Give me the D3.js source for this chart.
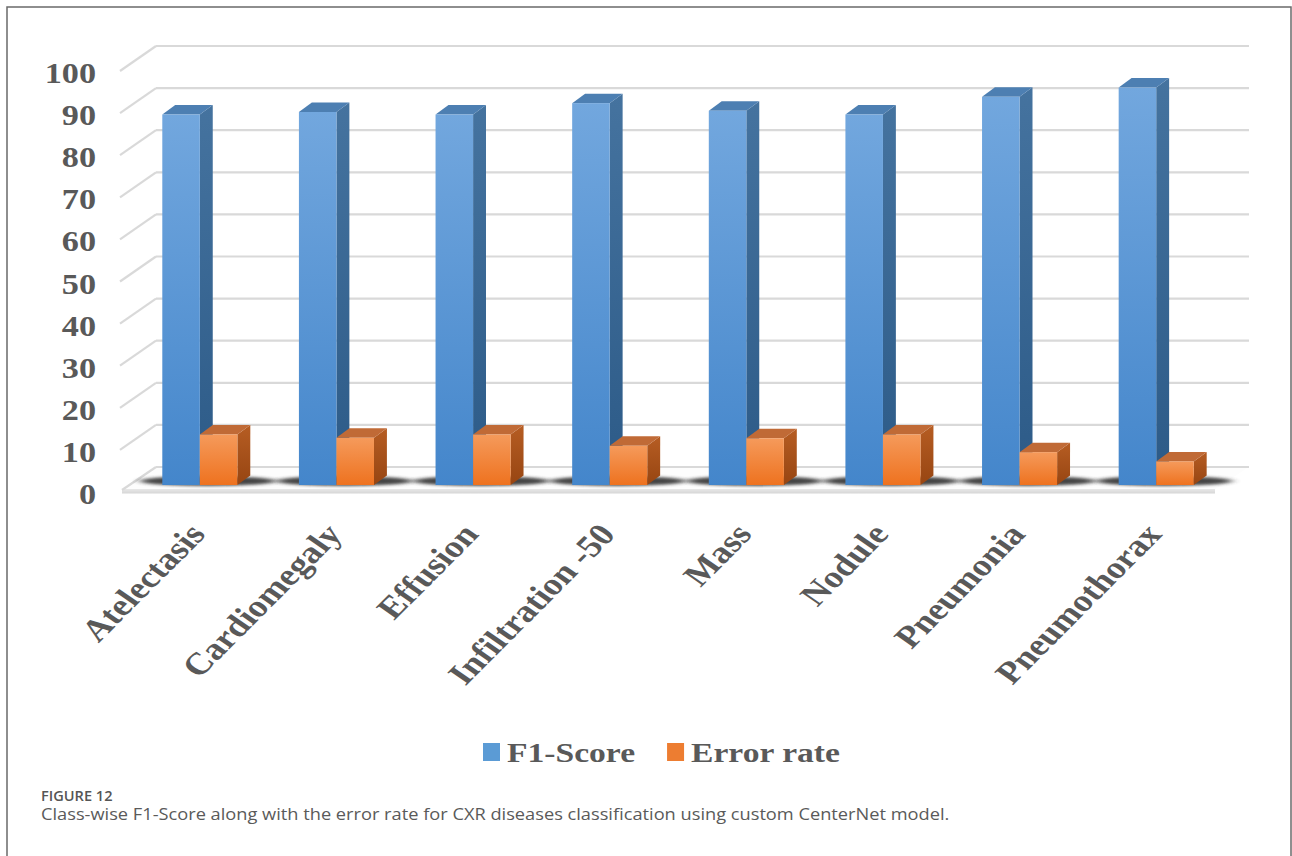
<!DOCTYPE html>
<html>
<head>
<meta charset="utf-8">
<script src="https://cdn.jsdelivr.net/npm/d3@7"></script>
<style>
  body { margin: 0; background: #fff; }
  svg { display: block; }
</style>
</head>
<body>
<div id="plot"></div>
<script>
// Data
const categories = ["Atelectasis", "Cardiomegaly", "Effusion", "Infiltration -50",
  "Mass", "Nodule", "Pneumonia", "Pneumothorax"];
const seriesNames = ["F1-Score", "Error rate"];
const f1Score = [88.0, 88.6, 88.0, 90.7, 88.9, 88.0, 92.2, 94.4];
const errorRate = [12.0, 11.2, 12.0, 9.3, 11.1, 12.0, 7.8, 5.6];
const yTicks = [0, 10, 20, 30, 40, 50, 60, 70, 80, 90, 100];

const width = 1292;
const height = 856;

// 3D box of the plot area (front plane + depth vector)
const floorLeft = 122, floorRight = 1215;
const DX = 34, DY = -25;          // full depth offset
const barT0 = 0.28, barT1 = 0.66; // bar front / back depth

const svg = d3.select("#plot")
  .append("svg")
  .attr("width", width)
  .attr("height", height);

// Frame round the figure
svg.append("rect")
  .attr("x", 7).attr("y", 7)
  .attr("width", 1284).attr("height", 900)
  .attr("fill", "none")
  .attr("stroke", "#6a6a6a")
  .attr("stroke-width", 1.5);

const y = d3.scaleLinear().domain([0, 100]).range([492, 71]);
const x = d3.scaleBand().domain(categories).range([floorLeft, floorRight]).padding(0);
const xSub = d3.scaleBand().domain(seriesNames).range([0, x.bandwidth()])
  .paddingInner(0).paddingOuter(0.82);

const defs = svg.append("defs");
function grad(id, c1, c2) {
  const g = defs.append("linearGradient").attr("id", id)
    .attr("x1", 0).attr("y1", 0).attr("x2", 0).attr("y2", 1);
  g.append("stop").attr("offset", "0%").attr("stop-color", c1);
  g.append("stop").attr("offset", "100%").attr("stop-color", c2);
}
grad("blueFront", "#72a7de", "#4486cb");
grad("blueSide", "#45739f", "#2c5a87");
grad("orangeFront", "#f59a5b", "#ee721f");
grad("orangeSide", "#b65d23", "#974512");
grad("floorBand", "#e8e8e8", "#d6d6d6");

const blur = defs.append("filter").attr("id", "shadowBlur")
  .attr("x", "-50%").attr("y", "-200%").attr("width", "200%").attr("height", "500%");
blur.append("feGaussianBlur").attr("stdDeviation", "5 1.8");

const colors = {
  "F1-Score": { front: "url(#blueFront)", side: "url(#blueSide)", top: "#4d7fb2", key: "#5b9bd5" },
  "Error rate": { front: "url(#orangeFront)", side: "url(#orangeSide)", top: "#c06a36", key: "#ed7d31" }
};

// Floor
const floor = svg.append("g");
floor.append("polygon")
  .attr("points", [[floorLeft, 489], [floorRight, 489], [floorRight + DX, 492 + DY], [floorLeft + DX, 492 + DY]].join(" "))
  .attr("fill", "#fdfdfd");
floor.append("rect")
  .attr("x", floorLeft).attr("y", 489)
  .attr("width", floorRight - floorLeft).attr("height", 4.5)
  .attr("fill", "url(#floorBand)");

// Gridlines: back wall and left wall
const grid = svg.append("g").attr("stroke", "#d9d9d9").attr("stroke-width", 2.2).attr("fill", "none");
grid.selectAll("line.back")
  .data(yTicks)
  .join("line")
  .attr("class", "back")
  .attr("x1", floorLeft + DX).attr("x2", floorRight + DX)
  .attr("y1", d => y(d) + DY).attr("y2", d => y(d) + DY);
grid.selectAll("line.side")
  .data(yTicks.filter(d => d > 0))
  .join("line")
  .attr("class", "side")
  .attr("x1", floorLeft - 2).attr("y1", d => y(d))
  .attr("x2", floorLeft + DX).attr("y2", d => y(d) + DY);
grid.append("line")
  .attr("x1", floorLeft).attr("y1", 490)
  .attr("x2", floorLeft + DX).attr("y2", 492 + DY);

// Y axis labels
svg.append("g")
  .selectAll("text")
  .data(yTicks)
  .join("text")
  .attr("transform", d => `translate(96,${y(d) + 12}) scale(1.18,1)`)
  .attr("text-anchor", "end")
  .style("font-family", "'Liberation Serif', 'Times New Roman', serif")
  .style("font-weight", "bold")
  .style("font-size", "29px")
  .attr("fill", "#595959")
  .text(d => d);

// Bars
const rows = categories.map((c, i) => ({ cat: c, values: [
  { key: "F1-Score", value: f1Score[i] },
  { key: "Error rate", value: errorRate[i] }
] }));

const sx = (barT1 - barT0) * DX, sy = (barT1 - barT0) * DY;
const ox = barT0 * DX, oy = barT0 * DY;

const groups = svg.append("g")
  .selectAll("g")
  .data(rows)
  .join("g")
  .attr("transform", d => `translate(${x(d.cat) + ox},${oy})`);

// soft floor shadow under each pair
groups.append("ellipse")
  .attr("cx", xSub.step() * 0.82 + xSub.step() + 8)
  .attr("cy", y(0) - 4)
  .attr("rx", xSub.step() + 30)
  .attr("ry", 5)
  .attr("fill", "#333")
  .attr("opacity", 0.9)
  .attr("filter", "url(#shadowBlur)");

groups.each(function(d) {
  const g = d3.select(this);
  d.values.forEach(v => {
    const x0 = xSub(v.key), w = xSub.bandwidth();
    const top = y(v.value), base = y(0);
    const c = colors[v.key];
    g.append("polygon")
      .attr("points", [[x0 + w, top], [x0 + w + sx, top + sy], [x0 + w + sx, base + sy], [x0 + w, base]].join(" "))
      .attr("fill", c.side);
    g.append("polygon")
      .attr("points", [[x0, top], [x0 + sx, top + sy], [x0 + w + sx, top + sy], [x0 + w, top]].join(" "))
      .attr("fill", c.top);
    g.append("rect")
      .attr("x", x0).attr("y", top)
      .attr("width", w).attr("height", base - top)
      .attr("fill", c.front);
  });
});

// X axis labels
svg.append("g")
  .selectAll("text")
  .data(categories)
  .join("text")
  .attr("transform", d => `translate(${x(d) + ox + x.bandwidth() / 2 + 7},535) scale(1.2,1) rotate(-50.2)`)
  .attr("text-anchor", "end")
  .style("font-family", "'Liberation Serif', 'Times New Roman', serif")
  .style("font-weight", "bold")
  .style("font-size", "31px")
  .attr("fill", "#595959")
  .text(d => d);

// Legend
const legend = svg.append("g");
let lx = 483;
seriesNames.forEach(name => {
  legend.append("rect")
    .attr("x", lx).attr("y", 743)
    .attr("width", 17).attr("height", 18)
    .attr("fill", colors[name].key);
  const t = legend.append("text")
    .attr("transform", `translate(${lx + 24},762) scale(1.2,1)`)
    .style("font-family", "'Liberation Serif', 'Times New Roman', serif")
    .style("font-weight", "bold")
    .style("font-size", "28px")
    .attr("fill", "#595959")
    .text(name);
  lx += 24 + t.node().getComputedTextLength() * 1.2 + 32;
});

// Caption
svg.append("text")
  .attr("transform", "translate(41,801) scale(1.08,1)")
  .style("font-family", "'Open Sans', sans-serif")
  .style("font-weight", 600)
  .style("font-size", "13.5px")
  .attr("fill", "#555")
  .text("FIGURE 12");
svg.append("text")
  .attr("transform", "translate(41,820) scale(1.14,1)")
  .style("font-family", "'Open Sans', sans-serif")
  .style("font-size", "16px")
  .attr("fill", "#5a5a5a")
  .text("Class-wise F1-Score along with the error rate for CXR diseases classification using custom CenterNet model.");
</script>
</body>
</html>
